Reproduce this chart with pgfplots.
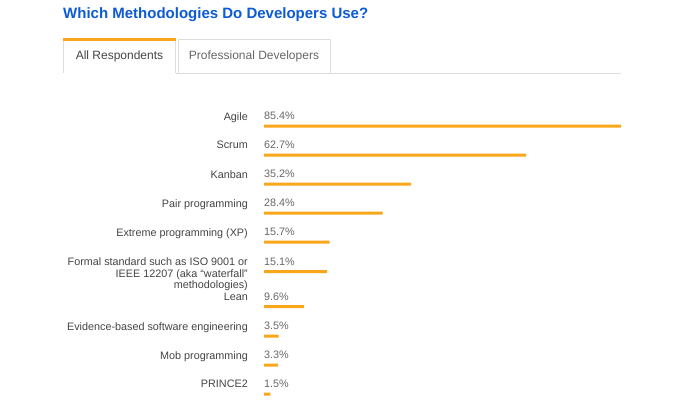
\documentclass[border=0pt]{standalone}
\usepackage{pgfplots}
\pgfplotsset{compat=1.18}
\usepackage{pgfplotstable}
\usepackage{fontspec}
\setmainfont{Liberation Sans}
\definecolor{sobar}{HTML}{FAA61A}
\definecolor{sotitle}{HTML}{0B5AD6}
\definecolor{lbl}{HTML}{444444}
\definecolor{valc}{HTML}{666666}
\definecolor{tabline}{HTML}{DDDDDD}

\pgfplotstableread{
pos val
126 85.4
155 62.7
184 35.2
213 28.4
242 15.7
271.5 15.1
306.5 9.6
336 3.5
365 3.3
394 1.5
}\data

\begin{document}
\begin{tikzpicture}[x=1pt,y=1pt]
\path[use as bounding box] (0,0) rectangle (692,399);
\begin{axis}[
  at={(264pt,0pt)}, anchor=south west,
  scale only axis, width=357pt, height=399pt,
  xmin=0, xmax=85.4, ymin=0, ymax=399,
  y dir=reverse,
  axis line style={draw=none},
  major tick length=0pt,
  xtick=\empty,
  clip=false,
  /pgf/number format/assume math mode=true,
  ytick={126,155,184,213,242,271.5,306.5,336,365,394},
  yticklabels={Agile,Scrum,Kanban,Pair programming,Extreme programming (XP),
    {Formal standard such as ISO 9001 or\\IEEE 12207 (aka “waterfall”\\methodologies)},
    Lean,Evidence-based software engineering,Mob programming,PRINCE2},
  yticklabel style={anchor=north east, align=right, inner sep=0pt,
    xshift=-16pt, yshift=14pt, text=lbl,
    font=\fontsize{10.8}{11.6}\selectfont},
]
\addplot[xbar, bar width=3pt, fill=sobar, draw=none] table[x=val, y=pos] {\data};
\addplot[draw=none, mark=none,
  nodes near coords={\pgfmathprintnumber[fixed, precision=1, fixed zerofill, assume math mode=true]{\pgfplotspointmeta}\%},
  point meta=explicit,
  nodes near coords style={anchor=west, inner sep=0pt, yshift=10pt, text=valc,
    font=\fontsize{10.8}{13}\selectfont}]
  table[x expr=0, y=pos, meta=val] {\data};
\end{axis}
\node[anchor=base west, inner sep=0pt, text=sotitle,
  font=\bfseries\fontsize{15}{18}\selectfont] at (63,380) {Which Methodologies Do Developers Use?};
\draw[tabline] (63.5,326) -- (63.5,359);
\draw[tabline] (175.5,326) -- (175.5,359);
\fill[sobar] (63,358) rectangle (176,361);
\draw[tabline] (178.5,326) rectangle (330,360);
\draw[tabline] (175.5,326) -- (621,326);
\node[text=lbl, inner sep=0pt, font=\fontsize{12}{14}\selectfont] at (119.5,343) {All Respondents};
\node[text=valc, inner sep=0pt, font=\fontsize{12}{14}\selectfont] at (254,343) {Professional Developers};
\end{tikzpicture}
\end{document}
